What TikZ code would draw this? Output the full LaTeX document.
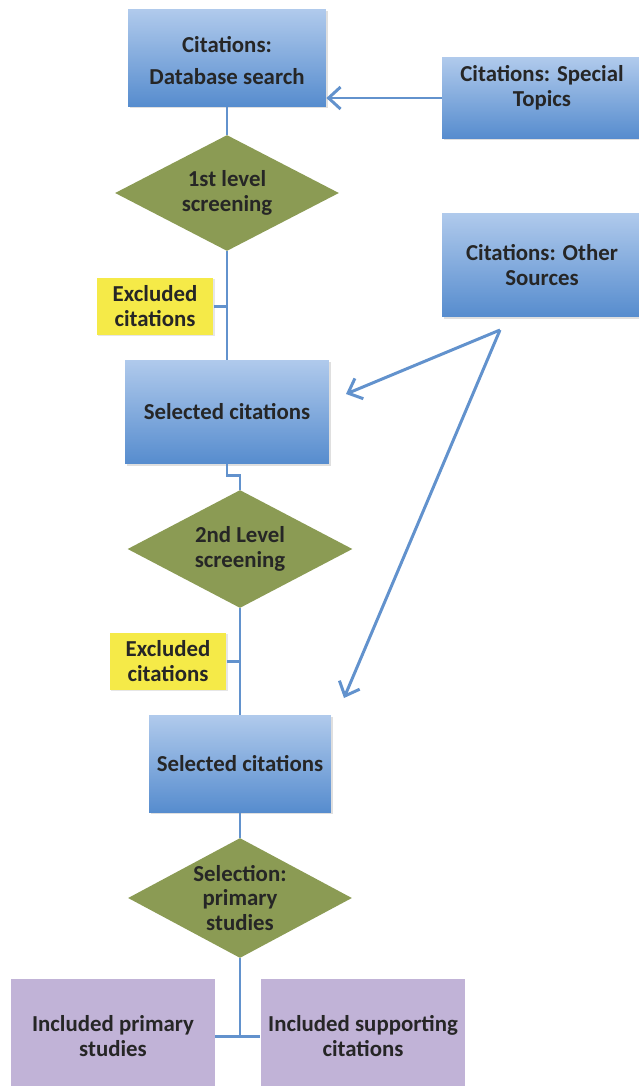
\documentclass[tikz,border=0pt]{standalone}
\usepackage{fontspec}
\setmainfont{Carlito}
\usetikzlibrary{arrows.meta, shapes.geometric, shadows, positioning}
\definecolor{boxtop}{RGB}{176,202,236}
\definecolor{boxbot}{RGB}{86,140,206}
\definecolor{screengreen}{RGB}{139,155,84}
\definecolor{exclyellow}{RGB}{245,234,72}
\definecolor{inclpurple}{RGB}{193,179,215}
\definecolor{flowline}{RGB}{98,146,205}
\definecolor{textgray}{RGB}{38,38,38}

\tikzset{
	label text/.style={font=\fontsize{13}{13.8}\selectfont\bfseries, text=textgray, align=center, inner sep=0pt},
	citebox/.style={label text, rectangle, top color=boxtop, bottom color=boxbot,
		drop shadow={opacity=0.25, shadow xshift=1pt, shadow yshift=-1pt}},
	screenbox/.style={label text, diamond, aspect=1.9, fill=screengreen},
	exclbox/.style={label text, rectangle, fill=exclyellow,
		drop shadow={opacity=0.2, shadow xshift=1pt, shadow yshift=-1pt}},
	inclbox/.style={label text, rectangle, fill=inclpurple},
	flow/.style={flowline, line width=1.7pt},
	feed/.style={flow, -{Straight Barb[length=2.4mm, width=4.4mm, line width=1.7pt]}}
}

\begin{document}
\begin{tikzpicture}[x=0.02cm, y=-0.02cm]
		\useasboundingbox (0,0) rectangle (639,1086);
		% citation sources
		\node [citebox, minimum width=3.96cm, minimum height=1.94cm] (db) at (227,58) {Citations:\\[4.5pt]Database search\\[-17pt]};
		\node [citebox, minimum width=4cm, minimum height=1.62cm] (special) at (542,98) {Citations: Special\\Topics\\};
		\node [citebox, minimum width=4cm, minimum height=2.08cm] (other) at (542,265) {Citations: Other\\Sources};
		% screening steps
		\node [screenbox, minimum width=4.48cm, minimum height=2.32cm] (scr1) at (227,193) {1st level\\screening};
		\node [exclbox, minimum width=2.34cm, minimum height=1.14cm] (excl1) at (155,306) {Excluded\\citations};
		\node [citebox, minimum width=4.08cm, minimum height=2.08cm] (sel1) at (227,412) {Selected citations};
		\node [screenbox, minimum width=4.5cm, minimum height=2.36cm] (scr2) at (240,549) {2nd Level\\screening};
		\node [exclbox, minimum width=2.34cm, minimum height=1.14cm] (excl2) at (168,661) {Excluded\\citations};
		\node [citebox, minimum width=3.64cm, minimum height=1.94cm] (sel2) at (240,764) {Selected citations};
		\node [screenbox, minimum width=4.48cm, minimum height=2.4cm] (scr3) at (240,898) {Selection:\\primary\\studies};
		% included
		\node [inclbox, minimum width=4.08cm, minimum height=2.3cm] (primary) at (113,1036) {Included primary\\studies};
		\node [inclbox, minimum width=4.1cm, minimum height=2.3cm] (support) at (363,1036) {Included supporting\\citations};
		% connectors
		\coordinate (fork) at (500,330);
		\coordinate (in1) at (346,394);
		\coordinate (in2) at (344,698);
		\draw [flow] (db.south)--(scr1.north);
		\draw [feed] (special.west)--(special.west -| db.east);
		\draw [flow] (scr1.south)--(sel1.north);
		\draw [flow] (excl1.east)--(excl1.east -| scr1.south);
		\draw [flow] (sel1.south)--++(0,11)-|(scr2.north);
		\draw [feed] (fork)--(in1);
		\draw [feed] (fork)--(in2);
		\draw [flow] (scr2.south)--(sel2.north);
		\draw [flow] (excl2.east)--(excl2.east -| scr2.south);
		\draw [flow] (sel2.south)--(scr3.north);
		\draw [flow] (scr3.south)--(scr3.south |- primary.east);
		\draw [flow] (primary.east)--(support.west);
	\end{tikzpicture}
\end{document}
